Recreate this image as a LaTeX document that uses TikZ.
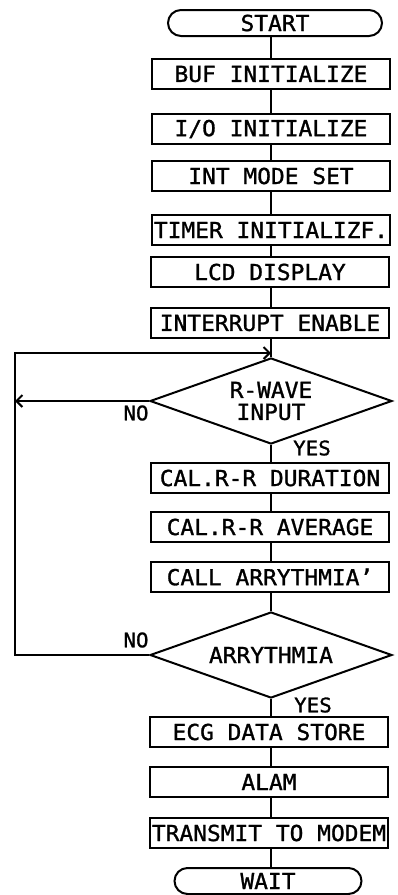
\documentclass[tikz,border=0pt]{standalone}
\usepackage{fontspec}
\setmainfont{DejaVu Sans Mono}[FakeStretch=1.04,FakeBold=1.2]
\usetikzlibrary{shapes.geometric,shapes.misc,arrows.meta}
\tikzset{
  base/.style={draw, line width=2pt, font=\fontsize{22}{25}\selectfont, inner sep=0pt},
  procbox/.style={base, rectangle, minimum width=238pt, minimum height=30pt},
  term/.style={base, rounded rectangle, minimum height=26pt},
  decision/.style={base, diamond, aspect=2.8, minimum width=242pt, minimum height=86pt, align=center},
  flow/.style={line width=2pt},
  lbl/.style={font=\fontsize{20}{22}\selectfont, inner sep=0pt}
}
\begin{document}
\begin{tikzpicture}[x=1pt,y=-1pt]
\useasboundingbox (0,0) rectangle (398,895);
\node[term, minimum width=214pt] (start) at (275,23) {START};
\node[procbox] (buf) at (271,74) {BUF INITIALIZE};
\node[procbox] (io) at (271,129) {I/O INITIALIZE};
\node[procbox] (intm) at (271,176) {INT MODE SET};
\node[procbox] (timer) at (271,230) {TIMER INITIALIZF.};
\node[procbox] (lcd) at (270,272) {LCD DISPLAY};
\node[procbox] (inten) at (270,323) {INTERRUPT ENABLE};
\coordinate (join) at (271,353);
\node[decision] (d1) at (271,401) {R-WAVE\\[-3pt]INPUT};
\node[procbox] (dur) at (270,478) {CAL.R-R DURATION};
\node[procbox] (avg) at (270,527) {CAL.R-R AVERAGE};
\node[procbox] (call) at (270,577) {CALL ARRYTHMIA'};
\node[decision] (d2) at (271,655) {ARRYTHMIA};
\node[procbox] (ecg) at (269,732) {ECG DATA STORE};
\node[procbox] (alam) at (269,782) {ALAM};
\node[procbox] (tx) at (269,833) {TRANSMIT TO MODEM};
\node[term, minimum width=187pt] (wait) at (268,881) {WAIT};
\coordinate (left1) at (15,401);
\coordinate (left2) at (15,655);

\draw[flow] (buf.north -| join) -- (start.south -| join);
\draw[flow] (buf.south -| join) -- (io.north -| join);
\draw[flow] (io.south -| join) -- (intm.north -| join);
\draw[flow] (intm.south -| join) -- (timer.north -| join);
\draw[flow] (timer.south -| join) -- (lcd.north -| join);
\draw[flow] (lcd.south -| join) -- (inten.north -| join);
\draw[flow] (inten.south -| join) -- (d1.north);
\draw[flow] (d1.south) -- (d1.south |- dur.north);
\draw[flow] (dur.south -| d1) -- (avg.north -| d1);
\draw[flow] (avg.south -| d1) -- (call.north -| d1);
\draw[flow] (call.south -| d2) -- (d2.north);
\draw[flow] (d2.south) -- (d2.south |- ecg.north);
\draw[flow] (ecg.south -| d2) -- (alam.north -| d2);
\draw[flow] (alam.south -| d2) -- (tx.north -| d2);
\draw[flow] (tx.south -| d2) -- (wait.north -| d2);
\draw[flow, -{Straight Barb[length=6pt,width=12pt]}] (d1.west) -- (left1);
\draw[flow, -{Straight Barb[length=6pt,width=12pt]}] (d2.west) -- (left2) -- (left2 |- join) -- (join);

\node[lbl] at (136,413) {NO};
\node[lbl] at (136,640) {NO};
\node[lbl] at (312,448) {YES};
\node[lbl] at (313,705) {YES};
\end{tikzpicture}
\end{document}
